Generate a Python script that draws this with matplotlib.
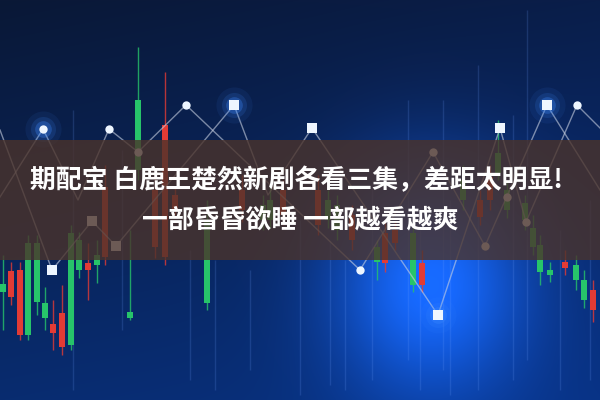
import numpy as np
import matplotlib.pyplot as plt

plt.rcParams['font.family'] = ['Noto Sans CJK SC', 'DejaVu Sans']

# title text
title_1 = '期配宝 白鹿王楚然新剧各看三集，差距太明显!'
title_2 = '一部昏昏欲睡 一部越看越爽'

# zigzag lines (pixel units, y down)
line_a_x = [0, 43, 78, 109, 138, 186, 360, 433, 485, 547, 600]
line_a_y = [197, 129, 200, 129, 152, 105, 270, 152, 246, 105, 190]
line_b_x = [0, 52, 92, 116, 234, 268, 312, 438, 500, 526, 577, 600]
line_b_y = [130, 270, 221, 246, 105, 195, 128, 315, 128, 222, 105, 128]

# markers on the lines
circle_x = [43, 109, 138, 186, 360, 433, 485, 507, 526, 577]
circle_y = [129, 129, 152, 105, 270, 152, 246, 197, 222, 105]
square_x = [234, 312, 500, 547, 52, 92, 116, 438]
square_y = [105, 128, 128, 105, 270, 221, 246, 315]
glow_x = [43, 234, 547, 438]
glow_y = [129, 105, 105, 315]

# candlesticks: x, wick top/bottom, body top/bottom, rising?
candle_x = [3, 11, 20, 28, 37, 45, 53, 62, 71, 79, 88, 97, 105, 130, 138, 155,
            165, 175, 207, 242, 263, 270, 283, 318, 328, 337, 352, 377, 385,
            395, 413, 422, 463, 480, 490, 498, 507, 525, 533, 540, 550, 565,
            576, 584, 593]
wick_top = [255, 262, 262, 235, 235, 287, 300, 285, 225, 232, 243, 240, 165,
            230, 47, 170, 72, 188, 200, 175, 195, 185, 180, 175, 190, 195, 205,
            240, 220, 222, 222, 250, 165, 190, 165, 120, 180, 195, 215, 235,
            262, 250, 255, 270, 280]
wick_bot = [330, 305, 340, 340, 315, 330, 350, 355, 350, 278, 300, 283, 265,
            320, 180, 258, 265, 215, 310, 222, 230, 228, 225, 235, 228, 240, 250,
            280, 272, 250, 292, 292, 210, 225, 210, 180, 218, 230, 255, 285,
            282, 275, 290, 308, 322]
body_top = [284, 271, 270, 243, 243, 303, 324, 313, 233, 240, 263, 255, 187,
            312, 100, 190, 125, 195, 222, 190, 205, 200, 190, 190, 200, 205, 215,
            247, 233, 230, 233, 263, 180, 200, 177, 153, 190, 203, 228, 245,
            270, 262, 265, 280, 290]
body_bot = [292, 297, 335, 335, 302, 318, 333, 347, 345, 270, 270, 265, 257,
            318, 170, 247, 257, 210, 303, 210, 220, 220, 215, 225, 220, 230, 240,
            262, 263, 243, 285, 285, 200, 217, 200, 173, 210, 220, 247, 272,
            275, 268, 280, 300, 310]
rising = [1, 0, 0, 1, 1, 1, 0, 0, 1, 1, 0, 1, 0, 1, 1, 0,
          0, 0, 1, 0, 1, 1, 0, 0, 1, 1, 0, 1, 0,
          0, 1, 0, 1, 0, 0, 1, 1, 1, 1, 1, 1, 0,
          1, 1, 0]

# faint light streaks
streak_x = [73, 122, 190, 215, 250, 300, 330, 345, 372, 408, 420, 443, 450,
            478, 513, 527, 560, 590]
streak_top = [110, 150, 250, 260, 270, 220, 240, 260, 180, 100, 230, 100, 200,
              65, 115, 10, 230, 200]
streak_bot = [390, 330, 380, 390, 370, 395, 385, 390, 380, 360, 390, 370, 395,
              390, 380, 360, 390, 380]

fig = plt.figure(figsize=(6, 4), dpi=100)
ax = fig.add_axes([0, 0, 1, 1])

# background gradient with blue glow
yy, xx = np.mgrid[0:400, 0:600]
t = (yy / 400.0)[..., None]
top = np.array([10, 24, 54]) / 255
bot = np.array([8, 44, 112]) / 255
img = top * (1 - t) + bot * t
img = img + (xx / 600.0)[..., None] * np.array([0, 6, 20]) / 255
glow = np.exp(-((xx - 430) ** 2 / (2 * 70 ** 2) + (yy - 280) ** 2 / (2 * 80 ** 2)))
img = img + glow[..., None] * np.array([15, 65, 150]) / 255
img = np.clip(img, 0, 1)
ax.imshow(img, extent=(0, 600, 400, 0), aspect='auto', zorder=0)

ax.vlines(streak_x, streak_top, streak_bot, color='#6fa0ff', lw=1, alpha=0.18, zorder=1)

# candles
cols = ['#27c46a' if r else '#e23b35' for r in rising]
ax.vlines(candle_x, wick_top, wick_bot, colors=cols, lw=1, alpha=0.8, zorder=2)
ax.bar(candle_x, np.array(body_bot) - np.array(body_top), bottom=body_top,
       width=6, color=cols, zorder=2)

# zigzag lines and markers
ax.plot(line_a_x, line_a_y, color='#c8d0e0', lw=1, alpha=0.6, zorder=3)
ax.plot(line_b_x, line_b_y, color='#c8d0e0', lw=1, alpha=0.6, zorder=3)
for s, a in [(26, 0.08), (18, 0.15), (12, 0.3)]:
    ax.plot(glow_x, glow_y, 'o', ms=s, color='#3d8bff', alpha=a, mew=0, zorder=3)
ax.plot(circle_x, circle_y, 'o', ms=6, color='#eef6ff', mew=0, zorder=4)
ax.plot(square_x, square_y, 's', ms=6.5, color='#eef6ff', mew=0, zorder=4)

# banner
ax.axhspan(140, 260, color=(75 / 255, 51 / 255, 42 / 255), alpha=0.8, lw=0, zorder=5)

ax.text(296, 181, title_1, ha='center', va='center', fontsize=18.6,
        fontweight='bold', color='white', zorder=6)
ax.text(300, 220, title_2, ha='center', va='center', fontsize=18.6,
        fontweight='bold', color='white', zorder=6)

ax.set_xlim(0, 600)
ax.set_ylim(400, 0)
ax.axis('off')

plt.savefig('out.png', dpi=100)
